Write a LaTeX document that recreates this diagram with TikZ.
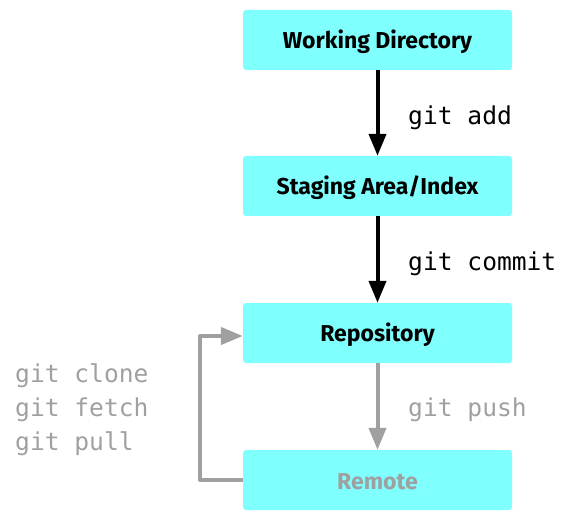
\documentclass[tikz,border=0pt]{standalone}
\usepackage{fontspec}
\setmainfont{Fira Sans}
\newfontfamily\codefont{DejaVu Sans Mono}
\usetikzlibrary{arrows.meta}
\definecolor{boxcyan}{HTML}{80FFFF}
\definecolor{grayline}{HTML}{A0A0A0}
\begin{document}
\begin{tikzpicture}[x=1pt,y=-1pt,
  stagebox/.style={fill=boxcyan, rounded corners=3pt, minimum width=269pt, minimum height=60pt, inner sep=0pt, font=\fontsize{23}{26}\selectfont\bfseries},
  boxtext/.style={inner sep=0pt, font=\fontsize{23}{26}\selectfont\bfseries},
  cmdlabel/.style={font=\codefont\fontsize{24.6}{34}\selectfont, anchor=west, inner sep=0pt, align=left},
  flow/.style={line width=4pt, -{Triangle[width=17pt,length=22pt]}}]
\useasboundingbox (0,0) rectangle (572,521);
\node[stagebox] (wd) at (377.5,40) {};
\node[stagebox] (sa) at (377.5,186) {};
\node[stagebox] (repo) at (377.5,333) {};
\node[stagebox] (rem) at (377.5,480) {};
\node[boxtext] (twd) at (377.5,42) {Working Directory};
\node[boxtext] (tsa) at (377.5,188) {Staging Area/Index};
\node[boxtext] (trepo) at (377.5,335) {Repository};
\node[boxtext, text=grayline] (trem) at (377.5,482) {Remote};
\draw[flow] (wd.south) -- (sa.north);
\draw[flow] (sa.south) -- (repo.north);
\draw[flow, grayline] (repo.south) -- (rem.north);
\coordinate (cl) at (200,480);
\coordinate (ct) at (200,336);
\draw[flow, grayline, line join=round] (rem.west |- 0,480) -- (cl) -- (ct) -- (rem.west |- 0,336);
\node[cmdlabel] (ladd) at (408,118) {git add};
\node[cmdlabel] (lcommit) at (408,264) {git commit};
\node[cmdlabel, text=grayline] (lpush) at (408,410) {git push};
\node[cmdlabel, text=grayline] (lpull) at (15,410) {git clone\\git fetch\\git pull};
\end{tikzpicture}
\end{document}
